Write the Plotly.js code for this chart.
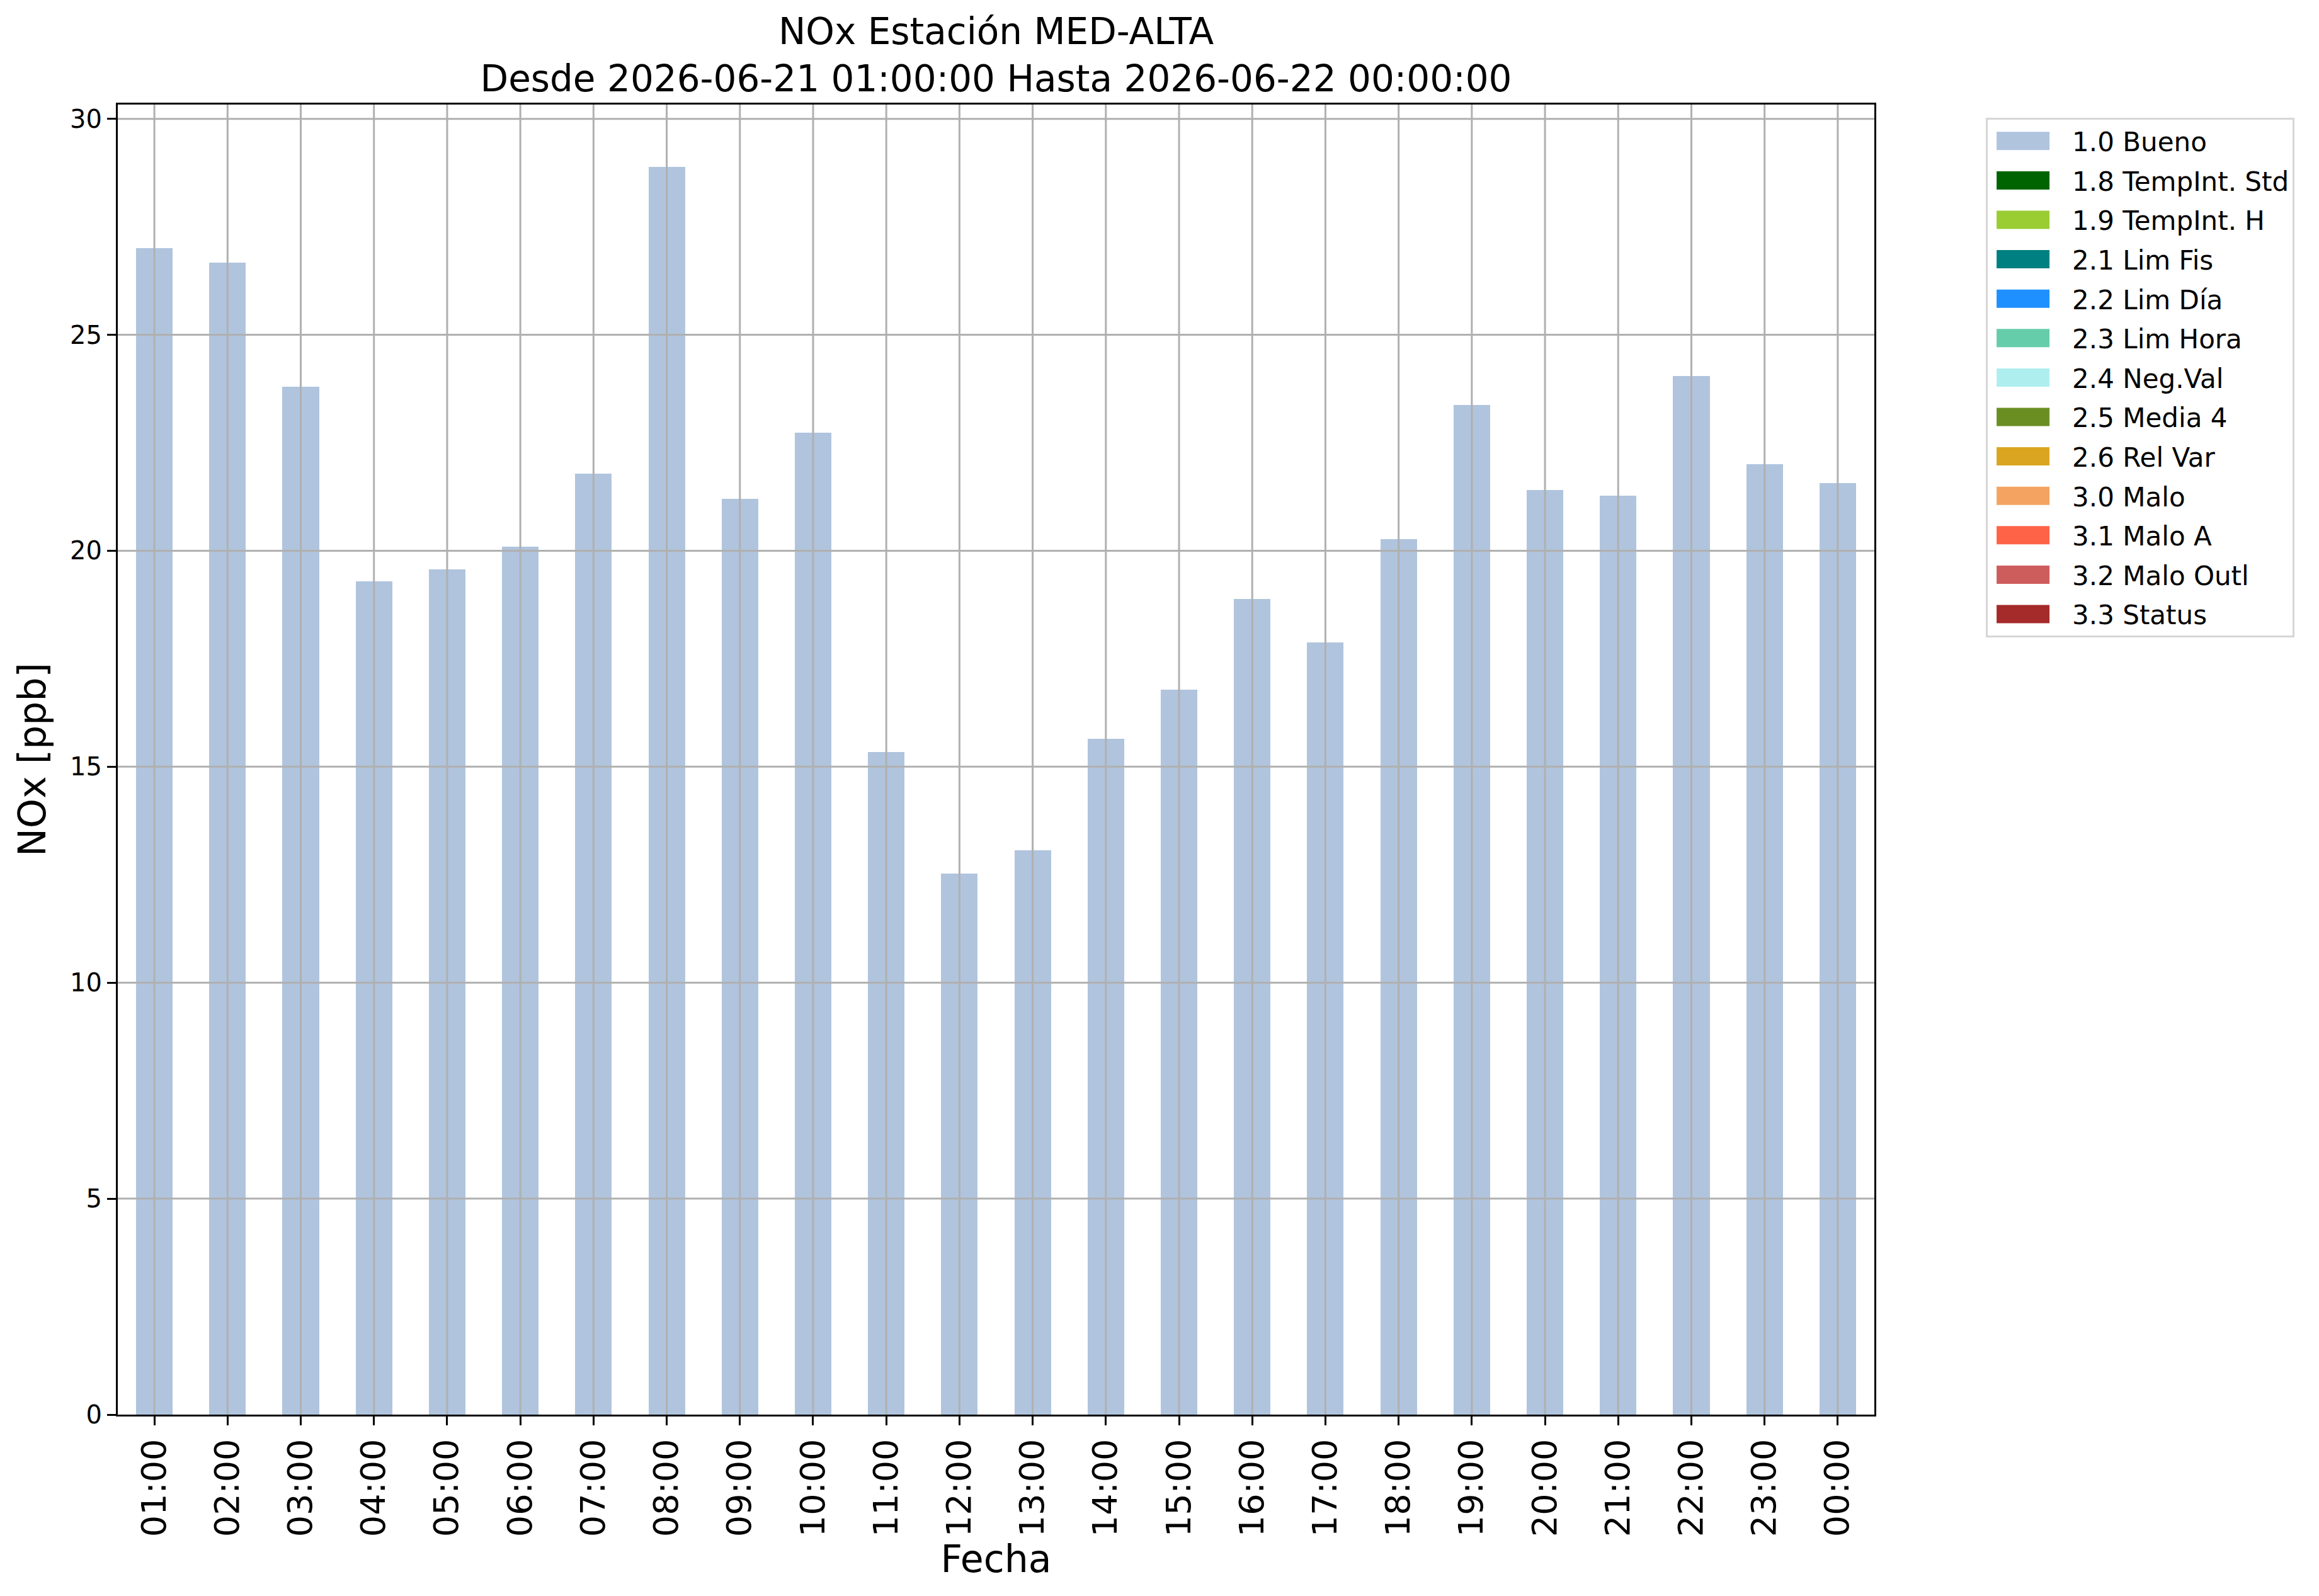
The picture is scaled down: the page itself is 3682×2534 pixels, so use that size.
<!DOCTYPE html>
<html>
<head>
<meta charset="utf-8">
<script src="https://cdn.plot.ly/plotly-3.0.1.min.js"></script>
<style>
html, body { margin: 0; padding: 0; background: #ffffff; }
#chart { width: 3682px; height: 2534px; }
</style>
</head>
<body>
<div id="chart"></div>
<script>
// ---- data ----
const hours = ["01:00","02:00","03:00","04:00","05:00","06:00","07:00","08:00",
               "09:00","10:00","11:00","12:00","13:00","14:00","15:00","16:00",
               "17:00","18:00","19:00","20:00","21:00","22:00","23:00","00:00"];
const noxValues = [27.00, 26.67, 23.80, 19.29, 19.57, 20.09, 21.78, 28.89,
                   21.20, 22.73, 15.34, 12.53, 13.07, 15.65, 16.79, 18.88,
                   17.87, 20.27, 23.38, 21.41, 21.27, 24.04, 22.01, 21.56];
const qualityFlags = ["1.0 Bueno","1.0 Bueno","1.0 Bueno","1.0 Bueno","1.0 Bueno","1.0 Bueno",
                      "1.0 Bueno","1.0 Bueno","1.0 Bueno","1.0 Bueno","1.0 Bueno","1.0 Bueno",
                      "1.0 Bueno","1.0 Bueno","1.0 Bueno","1.0 Bueno","1.0 Bueno","1.0 Bueno",
                      "1.0 Bueno","1.0 Bueno","1.0 Bueno","1.0 Bueno","1.0 Bueno","1.0 Bueno"];
const categories = ["1.0 Bueno","1.8 TempInt. Std","1.9 TempInt. H","2.1 Lim Fis","2.2 Lim Día",
                    "2.3 Lim Hora","2.4 Neg.Val","2.5 Media 4","2.6 Rel Var","3.0 Malo",
                    "3.1 Malo A","3.2 Malo Outl","3.3 Status"];
const categoryColors = ["#b0c4de","#006400","#9acd32","#008080","#1e90ff",
                        "#66cdaa","#afeeee","#6b8e23","#daa520","#f4a460",
                        "#ff6347","#cd5c5c","#a52a2a"];
const yTickValues = [0, 5, 10, 15, 20, 25, 30];
const yTickLabels = ["0", "5", "10", "15", "20", "25", "30"];
const titleText = "NOx Estación MED-ALTA<br>Desde 2026-06-21 01:00:00 Hasta 2026-06-22 00:00:00";

// ---- traces ----
const traces = categories.map((cat, k) => ({
  type: "bar",
  name: cat,
  legendgroup: cat,
  x: hours,
  y: noxValues.map((v, i) => (qualityFlags[i] === cat ? v : 0)),
  marker: { color: categoryColors[k], line: { width: 0 } },
  hoverinfo: "x+y+name"
}));

// grid lines drawn above the bars (as in the reference)
const gridColor = "#b0b0b0";
const shapes = [];
hours.forEach((h, i) => {
  shapes.push({ type: "line", xref: "x", yref: "paper", x0: i, x1: i, y0: 0, y1: 1,
                line: { color: gridColor, width: 3 }, layer: "above" });
});
yTickValues.filter(v => v > 0).forEach(v => {
  shapes.push({ type: "line", xref: "paper", yref: "y", x0: 0, x1: 1, y0: v, y1: v,
                line: { color: gridColor, width: 3 }, layer: "above" });
});

const layout = {
  width: 3682,
  height: 2534,
  margin: { l: 187, r: 706, t: 166, b: 288, pad: 0 },
  paper_bgcolor: "#ffffff",
  plot_bgcolor: "#ffffff",
  font: { family: "DejaVu Sans", color: "#000000", size: 40 },
  title: {
    text: titleText,
    font: { family: "DejaVu Sans", size: 58, color: "#000000" },
    x: 0.5, xref: "paper", xanchor: "center",
    y: 0.9725, yref: "container", yanchor: "top"
  },
  barmode: "stack",
  bargap: 0.5,
  showlegend: true,
  legend: {
    x: 1.0635, y: 0.9899, xanchor: "left", yanchor: "top",
    bgcolor: "#ffffff",
    bordercolor: "#d6d6d6", borderwidth: 3,
    font: { family: "DejaVu Sans", size: 42, color: "#000000" },
    itemwidth: 124,
    tracegroupgap: 5,
    traceorder: "grouped"
  },
  xaxis: {
    type: "category",
    range: [-0.5, 23.5],
    showgrid: false, zeroline: false,
    showline: true, mirror: true, linecolor: "#000000", linewidth: 3,
    ticks: "outside", ticklen: 14, tickwidth: 3, tickcolor: "#000000",
    tickangle: -90,
    tickfont: { family: "DejaVu Sans", size: 54, color: "#000000" },
    title: { text: "Fecha", font: { family: "DejaVu Sans", size: 60, color: "#000000" }, standoff: 15 },
    layer: "above traces"
  },
  yaxis: {
    range: [0, 30.33],
    tickmode: "array", tickvals: yTickValues, ticktext: yTickLabels,
    showgrid: false, zeroline: false,
    showline: true, mirror: true, linecolor: "#000000", linewidth: 3,
    ticks: "outside", ticklen: 14, tickwidth: 3, tickcolor: "#000000",
    tickfont: { family: "DejaVu Sans", size: 40, color: "#000000" },
    title: { text: "NOx [ppb]", font: { family: "DejaVu Sans", size: 60, color: "#000000" }, standoff: 20 },
    layer: "above traces"
  },
  shapes: shapes
};

Plotly.newPlot("chart", traces, layout, { displayModeBar: false, staticPlot: true }).then(() => {
  // enlarge legend swatches to matplotlib-like patches, placed relative to the entry text
  document.querySelectorAll(".legend g.traces").forEach(item => {
    const txt = item.querySelector("text.legendtext");
    const pts = item.querySelector("g.legendpoints");
    if (!txt || !pts) return;
    const tx = parseFloat(txt.getAttribute("x")) || 0;
    pts.querySelectorAll("path").forEach(p => {
      p.setAttribute("transform", "");
      p.setAttribute("d", "M" + (tx - 120) + ",-14.5h84v29h-84Z");
    });
  });
});
</script>
</body>
</html>
